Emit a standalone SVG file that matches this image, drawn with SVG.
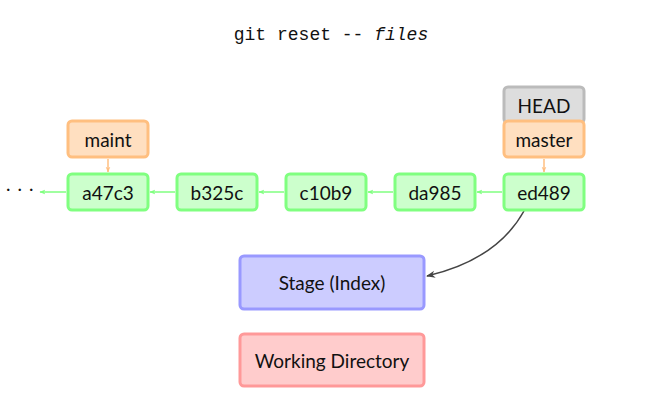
<svg xmlns="http://www.w3.org/2000/svg" width="665" height="417" viewBox="0 0 665 417">
  <style>
    .lbl { font-family: Lato, "Open Sans", sans-serif; font-size: 19px; fill: #111; text-anchor: middle; dominant-baseline: central; }
    .commit rect { fill: #ccffcc; stroke: #80ff80; stroke-width: 3; }
    .branch rect { fill: #ffdfc0; stroke: #ffbf80; stroke-width: 3; }
    .head rect { fill: #dddddd; stroke: #bbbbbb; stroke-width: 3; }
    .stage rect { fill: #ccccff; stroke: #9999ff; stroke-width: 3; }
    .work rect { fill: #ffcccc; stroke: #ff9999; stroke-width: 3; }
    .parent { stroke: #80ff80; stroke-width: 1.5; fill: none; marker-end: url(#ag); }
    .ref { stroke: #ffbf80; stroke-width: 1.5; fill: none; marker-end: url(#ao); }
    .flow { stroke: #444; stroke-width: 1.5; fill: none; marker-end: url(#ad); }
  </style>
  <defs>
    <marker id="ag" viewBox="0 0 10 10" refX="9" refY="5" markerWidth="6" markerHeight="6" orient="auto" markerUnits="userSpaceOnUse">
      <path d="M0,1 L10,5 L0,9 L3,5 Z" fill="#80ff80"/>
    </marker>
    <marker id="ao" viewBox="0 0 10 10" refX="9" refY="5" markerWidth="6" markerHeight="6" orient="auto" markerUnits="userSpaceOnUse">
      <path d="M0,1 L10,5 L0,9 L3,5 Z" fill="#ffbf80"/>
    </marker>
    <marker id="ad" viewBox="0 0 10 10" refX="9" refY="5" markerWidth="9" markerHeight="9" orient="auto" markerUnits="userSpaceOnUse">
      <path d="M0,1 L10,5 L0,9 L3,5 Z" fill="#444"/>
    </marker>
  </defs>

  <text x="331" y="35" style="font-family: 'Liberation Mono', monospace; font-size: 18px; fill: #111; text-anchor: middle; dominant-baseline: central;">git reset -- <tspan font-style="italic">files</tspan></text>

  <text x="6" y="191" style="font-family: Lato, sans-serif; font-size: 19px; fill: #111; letter-spacing: 7px;">...</text>

  <g id="connectors">
    <line class="parent" x1="66" y1="192" x2="40" y2="192"/>
    <line class="parent" x1="175" y1="192" x2="150" y2="192"/>
    <line class="parent" x1="284" y1="192" x2="259" y2="192"/>
    <line class="parent" x1="393" y1="192" x2="368" y2="192"/>
    <line class="parent" x1="502" y1="192" x2="477" y2="192"/>
    <line class="ref" x1="108" y1="159" x2="108" y2="172"/>
    <line class="ref" x1="544" y1="159" x2="544" y2="172"/>
    <path class="flow" d="M524,211 C505,245 470,266 427,276"/>
  </g>

  <g id="a47c3" class="commit"><rect x="68" y="174" width="80" height="36" rx="4"/><text x="108" y="192" class="lbl">a47c3</text></g>
  <g id="b325c" class="commit"><rect x="177" y="174" width="80" height="36" rx="4"/><text x="217" y="192" class="lbl">b325c</text></g>
  <g id="c10b9" class="commit"><rect x="286" y="174" width="80" height="36" rx="4"/><text x="326" y="192" class="lbl">c10b9</text></g>
  <g id="da985" class="commit"><rect x="395" y="174" width="80" height="36" rx="4"/><text x="435" y="192" class="lbl">da985</text></g>
  <g id="ed489" class="commit"><rect x="504" y="174" width="80" height="36" rx="4"/><text x="544" y="192" class="lbl">ed489</text></g>

  <g id="maint" class="branch"><rect x="68" y="121" width="80" height="36" rx="4"/><text x="108" y="139" class="lbl">maint</text></g>
  <g id="HEAD" class="head"><rect x="504" y="87" width="80" height="36" rx="4"/><text x="544" y="105" class="lbl">HEAD</text></g>
  <g id="master" class="branch"><rect x="504" y="121" width="80" height="36" rx="4"/><text x="544" y="139" class="lbl">master</text></g>

  <g id="stage" class="stage"><rect x="240" y="256" width="184" height="53" rx="4"/><text x="332" y="282" class="lbl">Stage (Index)</text></g>
  <g id="workdir" class="work"><rect x="240" y="334" width="184" height="52" rx="4"/><text x="332" y="360" class="lbl">Working Directory</text></g>
</svg>
